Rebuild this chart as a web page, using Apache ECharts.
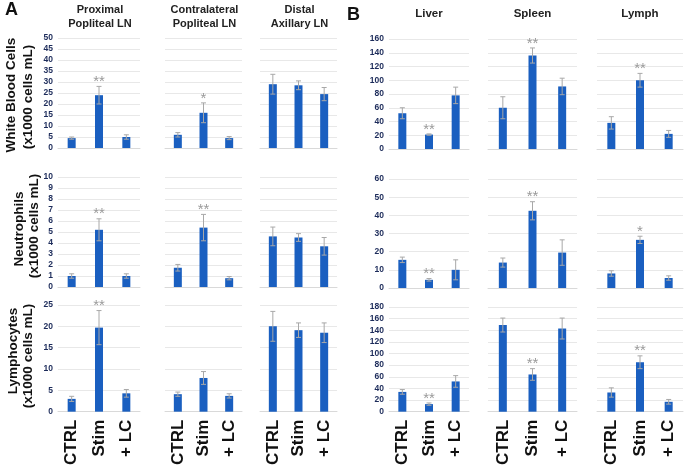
<!DOCTYPE html>
<html><head><meta charset="utf-8">
<script src="https://cdn.jsdelivr.net/npm/echarts@6/dist/echarts.min.js"></script>
<style>html,body{margin:0;padding:0;background:#fff}#c{width:685px;height:468px}</style>
</head><body><div id="c"></div>
<script>
const categories = ['CTRL', 'Stim', '+ LC'];
const colTitlesA = ['Proximal\nPopliteal LN', 'Contralateral\nPopliteal LN', 'Distal\nAxillary LN'];
const colTitlesB = ['Liver', 'Spleen', 'Lymph'];

// Panel A (lymph nodes): [proximal, contralateral, distal]
const wbcA_mean = [[4.5, 24, 5], [6, 16, 4.5], [29, 28.5, 24.5]];
const wbcA_err  = [[0.5, 4, 1], [1, 4.5, 0.7], [4.5, 2, 3]];
const wbcA_star = [['', '**', ''], ['', '*', ''], ['', '', '']];
const neuA_mean = [[1, 5.2, 1], [1.75, 5.4, 0.8], [4.6, 4.5, 3.7]];
const neuA_err  = [[0.2, 1, 0.2], [0.3, 1.2, 0.15], [0.85, 0.35, 0.8]];
const neuA_star = [['', '**', ''], ['', '**', ''], ['', '', '']];
const lymA_mean = [[3, 19.7, 4.3], [4.1, 7.9, 3.7], [20, 19.1, 18.5]];
const lymA_err  = [[0.6, 4, 0.9], [0.5, 1.5, 0.5], [3.5, 1.7, 2.3]];
const lymA_star = [['', '**', ''], ['', '', ''], ['', '', '']];

// Panel B (organs): [liver, spleen, lymph]
const wbcB_mean = [[52, 21, 78], [60, 136, 91], [38, 100, 22]];
const wbcB_err  = [[8, 1, 12], [16, 11, 12], [9, 10, 5]];
const wbcB_star = [['', '**', ''], ['', '**', ''], ['', '**', '']];
const neuB_mean = [[15.5, 4.5, 10], [14, 42.5, 19.5], [8, 26.5, 5.5]];
const neuB_err  = [[1.5, 0.7, 5.5], [2.5, 5, 7], [1.5, 2, 1.2]];
const neuB_star = [['', '**', ''], ['', '**', ''], ['', '*', '']];
const lymB_mean = [[34, 13, 52], [149, 64, 143], [33, 85, 17]];
const lymB_err  = [[4, 2, 10], [12, 10, 18], [8, 11, 4]];
const lymB_star = [['', '**', ''], ['', '**', ''], ['', '**', '']];

const axisA = [[50, 5], [10, 1], [25, 5]];
const axisB = [[160, 20], [60, 10], [180, 20]];
const rowTitles = [['White Blood Cells', '(x1000 cells mL)'], ['Neutrophils', '(x1000 cells mL)'], ['Lymphocytes', '(x1000 cells mL)']];

// layout
const colsA = [[58, 82], [165, 77], [260, 77]];
const colsB = [[389, 80], [488, 89], [597, 86]];
const rowsA = [[38, 110], [177, 110], [305, 107]];
const rowsB = [[39, 110], [179, 109], [307, 107]];

const FONT = 'Liberation Sans';
const BAR = '#1a5fc0';
const ERR = '#a8a8a8';

const grids = [], xAxes = [], yAxes = [], series = [];
const panels = [
  {cols: colsA, rows: rowsA, axes: axisA, data: [[wbcA_mean, wbcA_err, wbcA_star], [neuA_mean, neuA_err, neuA_star], [lymA_mean, lymA_err, lymA_star]]},
  {cols: colsB, rows: rowsB, axes: axisB, data: [[wbcB_mean, wbcB_err, wbcB_star], [neuB_mean, neuB_err, neuB_star], [lymB_mean, lymB_err, lymB_star]]}
];

panels.forEach(p => {
  for (let r = 0; r < 3; r++) {
    for (let c = 0; c < 3; c++) {
      const gi = grids.length;
      grids.push({left: p.cols[c][0], width: p.cols[c][1], top: p.rows[r][0], height: p.rows[r][1], containLabel: false});
      xAxes.push({
        type: 'category', gridIndex: gi, data: categories,
        axisTick: {show: false},
        axisLine: {show: true, lineStyle: {color: '#d9d9d9'}},
        axisLabel: {show: r === 2, rotate: 90, fontFamily: FONT, fontWeight: 'bold', fontSize: 17, color: '#111', margin: 8}
      });
      yAxes.push({
        type: 'value', gridIndex: gi, min: 0, max: p.axes[r][0], interval: p.axes[r][1],
        axisLine: {show: false}, axisTick: {show: false},
        splitLine: {show: true, lineStyle: {color: '#e8e8e8', width: 1}},
        axisLabel: {show: c === 0, fontFamily: FONT, fontWeight: 'bold', fontSize: 8.5, color: '#1c2b5a', margin: 5}
      });
      const [means, errs, stars] = p.data[r];
      const m = means[c], e = errs[c], s = stars[c];
      series.push({
        type: 'bar', xAxisIndex: gi, yAxisIndex: gi, data: m, barWidth: 8,
        itemStyle: {color: BAR}, silent: true
      });
      series.push({
        type: 'custom', xAxisIndex: gi, yAxisIndex: gi,
        data: m.map((v, i) => [i, v, e[i]]),
        renderItem: (params, api) => {
          const x = api.value(0), v = api.value(1), er = api.value(2);
          const top = api.coord([x, v + er]);
          const bot = api.coord([x, Math.max(0, v - er)]);
          const cap = 2.5;
          const star = s[params.dataIndex];
          const children = [
            {type: 'line', shape: {x1: top[0], y1: top[1], x2: bot[0], y2: bot[1]}, style: {stroke: ERR, lineWidth: 1}},
            {type: 'line', shape: {x1: top[0] - cap, y1: top[1], x2: top[0] + cap, y2: top[1]}, style: {stroke: ERR, lineWidth: 1}},
            {type: 'line', shape: {x1: bot[0] - cap, y1: bot[1], x2: bot[0] + cap, y2: bot[1]}, style: {stroke: ERR, lineWidth: 1}}
          ];
          if (star) {
            children.push({type: 'text', x: top[0], y: top[1] + 3, style: {text: star, fill: '#9a9a9a', fontSize: 15, fontFamily: FONT, align: 'center', verticalAlign: 'bottom'}});
          }
          return {type: 'group', children};
        },
        z: 5, silent: true
      });
    }
  }
});

const graphics = [
  {type: 'text', x: 5, y: 1, style: {text: 'A', fontSize: 18, fontWeight: 'bold', fontFamily: FONT, fill: '#111'}},
  {type: 'text', x: 347, y: 6, style: {text: 'B', fontSize: 18, fontWeight: 'bold', fontFamily: FONT, fill: '#111'}}
];
colsA.forEach((cc, i) => {
  graphics.push({type: 'text', x: cc[0] + cc[1] / 2 + 1, y: 3, style: {text: colTitlesA[i], fontSize: 11, lineHeight: 14, fontWeight: 'bold', fontFamily: FONT, fill: '#222', align: 'center', verticalAlign: 'top'}});
});
colsB.forEach((cc, i) => {
  graphics.push({type: 'text', x: cc[0] + cc[1] / 2, y: 8, style: {text: colTitlesB[i], fontSize: 11.5, fontWeight: 'bold', fontFamily: FONT, fill: '#222', align: 'center', verticalAlign: 'top'}});
});
const titlePos = [[[11, 95], [28, 97]], [[19, 229], [34, 226]], [[13, 351], [28, 356]]];
rowTitles.forEach((t, r) => {
  t.forEach((line, k) => {
    graphics.push({type: 'text', x: titlePos[r][k][0], y: titlePos[r][k][1], rotation: Math.PI / 2,
      style: {text: line, fontSize: 13.5, fontWeight: 'bold', fontFamily: FONT, fill: '#111', align: 'center', verticalAlign: 'middle'}});
  });
});

const chart = echarts.init(document.getElementById('c'), null, {renderer: 'canvas'});
chart.setOption({
  animation: false,
  backgroundColor: '#fff',
  grid: grids, xAxis: xAxes, yAxis: yAxes, series,
  graphic: graphics
});
</script></body></html>
